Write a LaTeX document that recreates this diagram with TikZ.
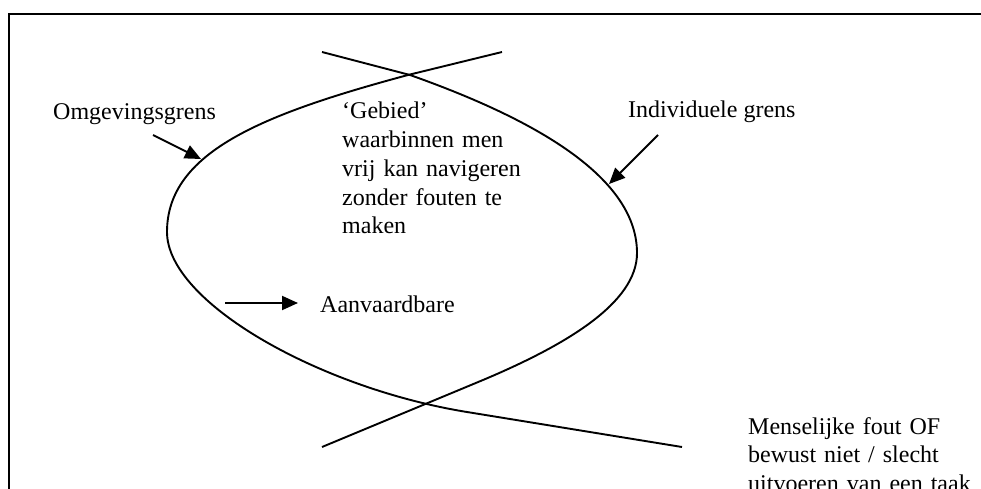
\documentclass[tikz,border=0pt]{standalone}
\usepackage{fontspec}
\setmainfont{Liberation Serif}
\usepackage{tikz}
\usetikzlibrary{arrows.meta}
\tikzstyle{kader}=[line width=2pt]
\tikzstyle{grens}=[line width=1.9pt]
\tikzstyle{wijzer}=[line width=1.9pt,-{Triangle[length=16pt,width=14pt]}]
\tikzstyle{tekst}=[anchor=base west,inner sep=0pt,font=\fontsize{24pt}{28.7pt}\selectfont]
\tikzstyle{blok}=[tekst,text width=300pt,align=left]

\begin{document}
\begin{tikzpicture}[x=1pt,y=-1pt]
\useasboundingbox (0,0) rectangle (981,489);
\clip (0,0) rectangle (981,489);
\draw[kader] (9,495) -- (9,14.5) -- (990,14.5);

% de twee grenzen
\draw[grens] (502,52) -- (408,75) .. controls (263,114) and (167,152) .. (167,232)
  .. controls (167,302) and (319,388) .. (467,412) -- (682,447);
\draw[grens] (322,52) -- (410,75) .. controls (523,115) and (637,173) .. (637,253)
  .. controls (637,303) and (566,345) .. (483,380) -- (322,447);

\node[tekst] (omgeving) at (53,120) {Omgevingsgrens};
\node[blok] (gebied) at (342,119) {‘Gebied’\\ waarbinnen men\\ vrij kan navigeren\\ zonder fouten te\\ maken};
\node[tekst] (individu) at (628,118) {Individuele grens};
\node[tekst] (aanvaard) at (320,312) {Aanvaardbare};
\node[blok] (fout) at (748,434) {Menselijke fout OF\\ bewust niet / slecht\\ uitvoeren van een taak};

\coordinate (omgStart) at (153,135);
\coordinate (omgEind) at (201,159);
\coordinate (indStart) at (658,135);
\coordinate (indEind) at (609,184);
\coordinate (aanStart) at (225,303);
\coordinate (aanEind) at (298,303);
\draw[wijzer] (omgStart) -- (omgEind);
\draw[wijzer] (indStart) -- (indEind);
\draw[wijzer] (aanStart) -- (aanEind);
\end{tikzpicture}
\end{document}
